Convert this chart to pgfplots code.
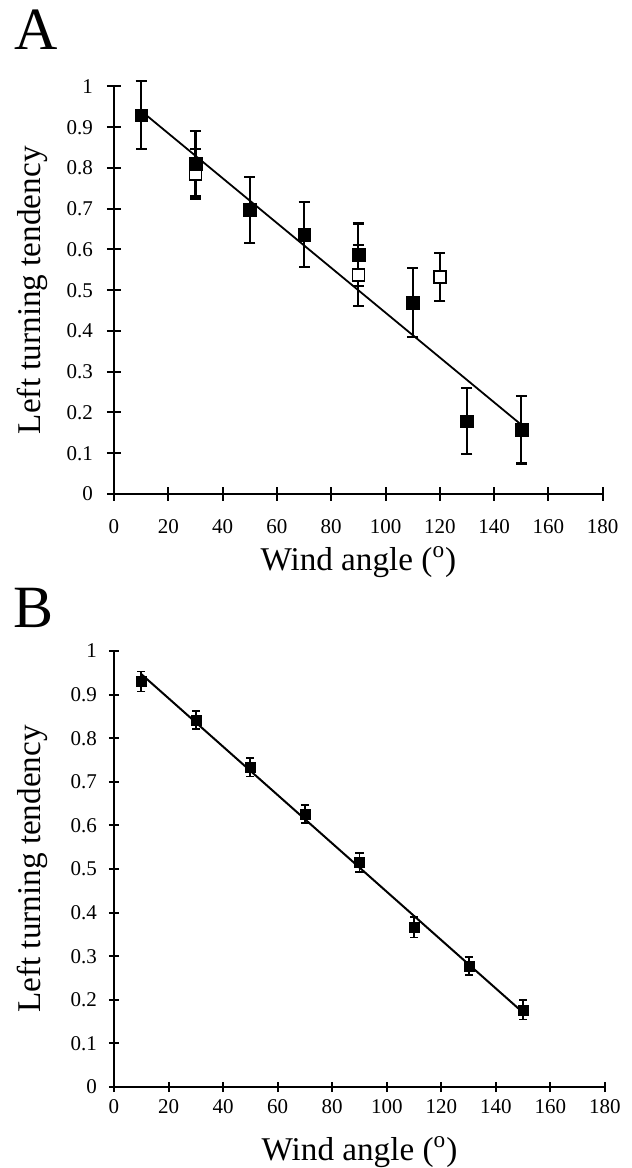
\documentclass[border=0pt]{standalone}
\usepackage{pgfplots}
\pgfplotsset{compat=1.18}
\usepackage{pgfplotstable}
\usepackage{fontspec}
\setmainfont{Liberation Serif}

\pgfplotstableread{
x y ey
10 0.930 0.083
30 0.810 0.080
50 0.697 0.081
70 0.637 0.080
90 0.587 0.077
110 0.470 0.084
130 0.179 0.081
150 0.158 0.083
}\dataAfilled
\pgfplotstableread{
x y ey
30 0.785 0.061
90 0.537 0.075
120 0.533 0.059
}\dataAopen
\pgfplotstableread{
x y ey
10 0.930 0.023
30 0.842 0.021
50 0.733 0.021
70 0.626 0.021
90 0.515 0.022
110 0.366 0.023
130 0.277 0.021
150 0.177 0.022
}\dataB

\pgfplotsset{
  common/.style={
    scale only axis, axis lines=left,
    axis line style={-, line width=1pt},
    xmin=0, xmax=180, ymin=0, ymax=1, enlargelimits=false,
    xtick={0,20,40,60,80,100,120,140,160,180},
    ytick={0,0.1,0.2,0.3,0.4,0.5,0.6,0.7,0.8,0.9,1},
    tick align=center,
    tick style={line width=1pt, black},
    /pgf/number format/assume math mode=true,
    ticklabel style={font=\fontsize{10.5}{12}\selectfont},
    label style={font=\fontsize{16.6}{19}\selectfont},
    xlabel={Wind angle (\textsuperscript{o})},
    ylabel={Left turning tendency},
    ylabel style={at={(axis description cs:0,0.5)}, anchor=center, yshift=41pt},
    clip=false,
  }
}

\begin{document}
\begin{tikzpicture}
\path[use as bounding box] (0,0) rectangle (316pt,584pt);

% Panel A
\begin{axis}[common,
  at={(57pt,337pt)}, anchor=south west,
  width=244.35pt, height=203.75pt,
  major tick length=7pt,
  xticklabel style={inner sep=0pt, yshift=-9pt},
  yticklabel style={xshift=-3.5pt},
  xlabel style={at={(axis description cs:0.5,0)}, anchor=center, inner sep=0pt, yshift=-34pt},
]
\addplot[black, line width=0.9pt] coordinates {(10,0.94) (150,0.17)};
\addplot[only marks, black, mark=square*, mark size=3pt,
  mark options={fill=white, draw=black, line width=0.8pt},
  error bars/.cd, y dir=both, y explicit, error mark=|,
  error bar style={line width=1.1pt, black},
  error mark options={draw=black, line width=1.1pt, mark size=2.75pt}]
  table[x=x, y=y, y error=ey] {\dataAopen};
\addplot[only marks, black, mark=square*, mark size=3.2pt,
  mark options={fill=black, draw=black, line width=0.1pt},
  error bars/.cd, y dir=both, y explicit, error mark=|,
  error bar style={line width=1.1pt, black},
  error mark options={draw=black, line width=1.1pt, mark size=2.75pt}]
  table[x=x, y=y, y error=ey] {\dataAfilled};
\end{axis}

% Panel B
\begin{axis}[common,
  at={(57pt,40.5pt)}, anchor=south west,
  width=245.5pt, height=218pt,
  major tick length=5pt,
  xticklabel style={inner sep=0pt, yshift=-3.5pt},
  yticklabel style={xshift=-2.5pt},
  xlabel style={at={(axis description cs:0.5,0)}, anchor=center, inner sep=0pt, yshift=-32.5pt},
]
\addplot[black, line width=1pt] coordinates {(10,0.947) (149,0.176)};
\addplot[only marks, black, mark=square*, mark size=2.5pt,
  mark options={fill=black, draw=black, line width=0.1pt},
  error bars/.cd, y dir=both, y explicit, error mark=|,
  error bar style={line width=0.9pt, black},
  error mark options={draw=black, line width=0.9pt, mark size=2pt}]
  table[x=x, y=y, y error=ey] {\dataB};
\end{axis}

\node[font=\fontsize{30}{32}\selectfont] at (18pt,569pt) {A};
\node[font=\fontsize{30}{32}\selectfont] at (17pt,280pt) {B};
\end{tikzpicture}
\end{document}
